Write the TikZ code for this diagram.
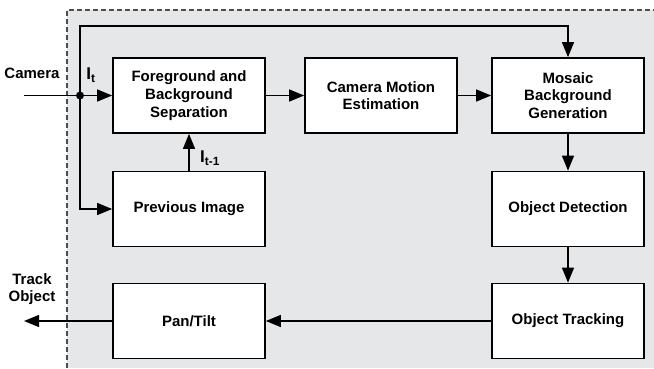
\documentclass[tikz,border=0pt]{standalone}
\usepackage{fontspec}
\setmainfont{Liberation Sans}
\usetikzlibrary{arrows.meta}
\definecolor{panel}{HTML}{E6E7E9}
\tikzset{block/.style={rectangle, draw, fill=white, line width=1.7pt,
   minimum width=152pt, minimum height=75pt, inner sep=0pt,
   align=center, font=\fontsize{15}{17.7}\selectfont\bfseries}}
\tikzset{flow/.style={line width=1.3pt, -{Triangle[length=15pt,width=12pt]}}}
\tikzset{tag/.style={font=\fontsize{15}{17.7}\selectfont\bfseries, align=center, inner sep=0pt}}

\begin{document}
\begin{tikzpicture}[x=1pt,y=1pt]

    \useasboundingbox (0,0) rectangle (654,368);
    \fill[panel] (67,0) rectangle (654,358);
    \draw[line width=1.2pt, dash pattern=on 5pt off 3pt, black!70] (67,0) -- (67,358) -- (654,358);

    \node[block] (fbs) at (189,272.5) {Foreground and\\Background\\Separation};
    \node[block] (cme) at (381,272.5) {Camera Motion\\Estimation};
    \node[block] (mbg) at (568,272.5) {Mosaic\\Background\\Generation};
    \node[block] (pi)  at (189,159)   {Previous Image};
    \node[block] (od)  at (568,159)   {Object Detection};
    \node[block] (pt)  at (189,47)    {Pan/Tilt};
    \node[block] (ot)  at (568,47)    {Object Tracking};

    \coordinate (cam) at (24,272.5);
    \coordinate (junc) at (80,272.5);
    \coordinate (out) at (24,47);

    \node[tag] (camlbl) at (32,295) {Camera};
    \node[tag, font=\fontsize{17}{17}\selectfont\bfseries] (it) at (91,293) {I\textsubscript{t}};
    \node[tag, font=\fontsize{17}{17}\selectfont\bfseries] (itm) at (210,210) {I\textsubscript{t-1}};
    \node[tag] (trk) at (32,79) {Track\\Object};

    \draw[flow] (cam) -- (fbs.west);
    \fill (junc) circle (4pt);
    \draw[flow] (junc) |- (pi.west);
    \draw[flow] (junc) -- ++(0,69.5) -| (mbg.north);
    \draw[flow] (pi.north) -- (fbs.south);
    \draw[flow] (fbs.east) -- (cme.west);
    \draw[flow] (cme.east) -- (mbg.west);
    \draw[flow] (mbg.south) -- (od.north);
    \draw[flow] (od.south) -- (ot.north);
    \draw[flow] (ot.west) -- (pt.east);
    \draw[flow] (pt.west) -- (out);

  \end{tikzpicture}
\end{document}
